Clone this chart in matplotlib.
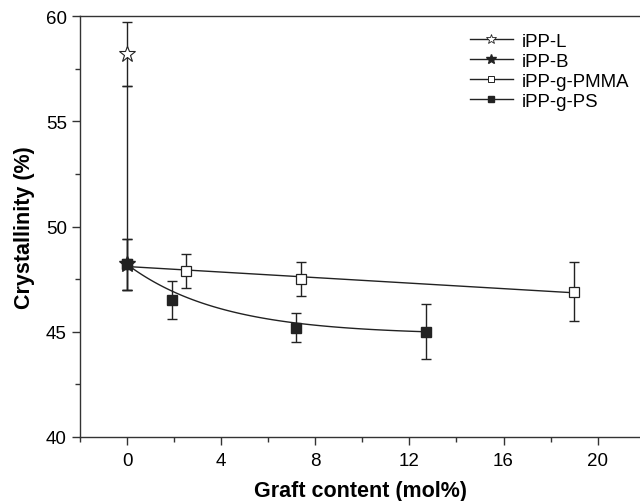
import numpy as np
import matplotlib
matplotlib.use("Agg")
import matplotlib.pyplot as plt
from matplotlib.ticker import MultipleLocator

plt.rcParams["font.family"] = ["Liberation Sans", "DejaVu Sans"]

# =========================
# data
# =========================
ipp_l_x = [0]
ipp_l_y = [58.2]
ipp_l_err = [1.5]

ipp_b_x = [0]
ipp_b_y = [48.2]
ipp_b_err_low = [1.2]
ipp_b_err_high = [8.5]

pmma_x = [0, 2.5, 7.4, 19.0]
pmma_y = [48.2, 47.9, 47.5, 46.9]
pmma_err = [1.2, 0.8, 0.8, 1.4]

ps_x = [0, 1.9, 7.2, 12.7]
ps_y = [48.2, 46.5, 45.2, 45.0]
ps_err = [1.2, 0.9, 0.7, 1.3]

# exponential fit for PS: y = a + b*exp(-x/t)
ps_fit_a = 44.86
ps_fit_b = 3.34
ps_fit_t = 4.0

fig = plt.figure(figsize=(6.4, 5.02), dpi=100)
ax = fig.add_axes([0.125, 0.1275, 0.875, 0.8385])

ebar = dict(fmt="none", ecolor="#222222", elinewidth=1.0, capsize=3.5, capthick=1.0)

# fit lines
xf = np.linspace(0, max(pmma_x), 100)
coef = np.polyfit(pmma_x, pmma_y, 1)
ax.plot(xf, np.polyval(coef, xf), color="#222222", lw=1.0, zorder=2)

xs = np.linspace(0, max(ps_x), 100)
ax.plot(xs, ps_fit_a + ps_fit_b * np.exp(-xs / ps_fit_t), color="#222222", lw=1.0, zorder=2)

# error bars
ax.errorbar(ipp_l_x, ipp_l_y, yerr=ipp_l_err, **ebar)
ax.errorbar(ipp_b_x, ipp_b_y, yerr=[ipp_b_err_low, ipp_b_err_high], **ebar)
ax.errorbar(pmma_x, pmma_y, yerr=pmma_err, **ebar)
ax.errorbar(ps_x, ps_y, yerr=ps_err, **ebar)

# markers
ax.plot(ipp_l_x, ipp_l_y, ls="none", marker="*", ms=12, mfc="white", mec="#222222", mew=0.8, zorder=4)
ax.plot(pmma_x, pmma_y, ls="none", marker="s", ms=6.5, mfc="white", mec="#222222", mew=0.9, zorder=4)
ax.plot(ps_x, ps_y, ls="none", marker="s", ms=6.5, mfc="#222222", mec="#222222", zorder=4)
ax.plot(ipp_b_x, ipp_b_y, ls="none", marker="*", ms=12, mfc="#222222", mec="#222222", zorder=5)

# legend handles
h1, = ax.plot([], [], color="#222222", lw=1.0, marker="*", ms=7, mfc="white", mec="#222222", mew=0.6)
h2, = ax.plot([], [], color="#222222", lw=1.0, marker="*", ms=7, mfc="#222222", mec="#222222")
h3, = ax.plot([], [], color="#222222", lw=1.0, marker="s", ms=4.5, mfc="white", mec="#222222", mew=0.7)
h4, = ax.plot([], [], color="#222222", lw=1.0, marker="s", ms=4.5, mfc="#222222", mec="#222222")
ax.legend([h1, h2, h3, h4], ["iPP-L", "iPP-B", "iPP-g-PMMA", "iPP-g-PS"],
          loc="upper left", bbox_to_anchor=(0.696, 0.96), frameon=False,
          fontsize=13.4, handlelength=2.3, handletextpad=0.5, labelspacing=0.16,
          borderaxespad=0, borderpad=0)

ax.set_xlim(-2, 21.8)
ax.set_ylim(40, 60)
ax.xaxis.set_major_locator(MultipleLocator(4))
ax.xaxis.set_minor_locator(MultipleLocator(2))
ax.yaxis.set_major_locator(MultipleLocator(5))
ax.yaxis.set_minor_locator(MultipleLocator(2.5))
ax.tick_params(which="major", length=6, width=1, labelsize=13.5, color="#333333")
ax.tick_params(axis="x", which="major", pad=5)
ax.tick_params(which="minor", length=3.5, width=1, color="#333333")
ax.spines["right"].set_visible(False)
for s in ["left", "bottom", "top"]:
    ax.spines[s].set_linewidth(1.0)
    ax.spines[s].set_color("#333333")

ax.set_xlabel("Graft content (mol%)", fontsize=15.5, fontweight="bold", labelpad=8)
ax.set_ylabel("Crystallinity (%)", fontsize=15.5, fontweight="bold", labelpad=8)

fig.savefig("out.png", dpi=100)
